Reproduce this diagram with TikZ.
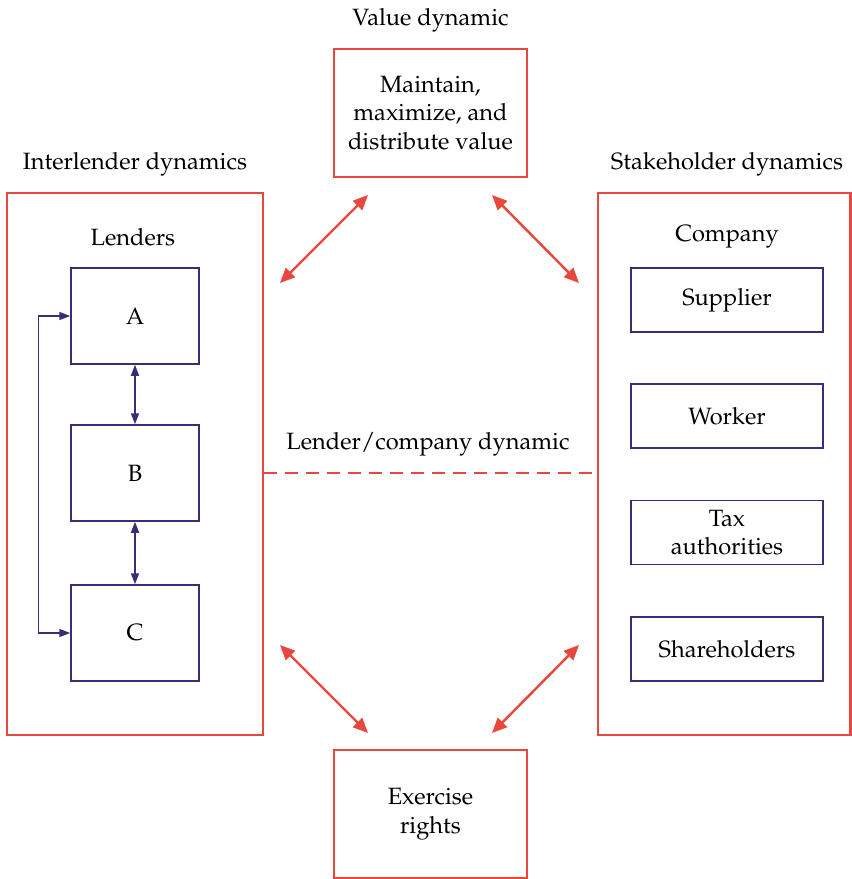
\documentclass[tikz,border=0pt]{standalone}
\usepackage[T1]{fontenc}
\usepackage{mathpazo}
\usepackage{xcolor}
\usepackage{tikz}
\usetikzlibrary{arrows.meta,positioning,calc}
\definecolor{redl}{HTML}{E8473B}
\definecolor{purp}{HTML}{3B2C78}

\begin{document}
\begin{tikzpicture}[x=0.5pt,y=-0.5pt,
  font=\fontsize{11.8}{14.25}\selectfont,
  bigbox/.style={draw=redl,line width=1.35pt,inner sep=0pt},
  valbox/.style={draw=redl,line width=1.35pt,minimum width=96.5pt,minimum height=64pt,align=center,inner sep=2pt},
  lbox/.style={draw=purp,line width=0.75pt,minimum width=64pt,minimum height=48pt},
  sbox/.style={draw=purp,line width=0.75pt,minimum width=96pt,minimum height=32pt,align=center,inner sep=1pt},
  redarr/.style={{Triangle[length=7.5pt,width=6.5pt]}-{Triangle[length=7.5pt,width=6.5pt]},line width=1.2pt,draw=redl},
  link/.style={{Triangle[length=5.5pt,width=4pt]}-{Triangle[length=5.5pt,width=4pt]},line width=0.75pt,draw=purp},
  dashline/.style={draw=redl,line width=1.2pt,dash pattern=on 6.5pt off 4pt},
  ttl/.style={inner sep=0pt}
]
\useasboundingbox (0,0) rectangle (852,879);

% outer boxes
\node[bigbox,minimum width=128pt,minimum height=271pt] (L) at (135,464) {};
\node[bigbox,minimum width=126.25pt,minimum height=271pt] (R) at (724.25,464) {};
\node[valbox] (V) at (430.5,113) {Maintain,\\maximize, and\\distribute value};
\node[valbox] (X) at (430.5,814) {Exercise\\rights};

% titles
\node[ttl] (tV) at (430.5,20) {Value dynamic};
\node[ttl] (tL) at (135,164) {Interlender dynamics};
\node[ttl] (tR) at (727,164) {Stakeholder dynamics};
\node[ttl] (tM) at (428,444) {Lender/company dynamic};
\node[ttl] (lend) at (133,237) {Lenders};
\node[ttl] (comp) at (727,237) {Company};

% lenders
\node[lbox] (A) at (135,316) {A};
\node[lbox] (B) at (135,473) {B};
\node[lbox] (C) at (135,633) {C};

% stakeholders
\node[sbox] (sup) at (727,300) {Supplier};
\node[sbox] (wrk) at (727,416) {Worker};
\node[sbox] (tax) at (727,532.5) {Tax\\authorities};
\node[sbox] (shr) at (727,649) {Shareholders};

\draw[link] (A) -- (B);
\draw[link] (B) -- (C);
\draw[link] (A.west) -- ++(-32,0) |- (C.west);

\draw[dashline] (L.east |- B.center) -- (R.west |- B.center);

% value and rights arrows
\coordinate (p1) at (280,283);
\coordinate (p2) at (368,195);
\coordinate (p3) at (492,195);
\coordinate (p4) at (579,283);
\coordinate (p5) at (280,645);
\coordinate (p6) at (368,733);
\coordinate (p7) at (492,733);
\coordinate (p8) at (579,645);
\draw[redarr] (p1) -- (p2);
\draw[redarr] (p3) -- (p4);
\draw[redarr] (p5) -- (p6);
\draw[redarr] (p7) -- (p8);
\end{tikzpicture}
\end{document}
